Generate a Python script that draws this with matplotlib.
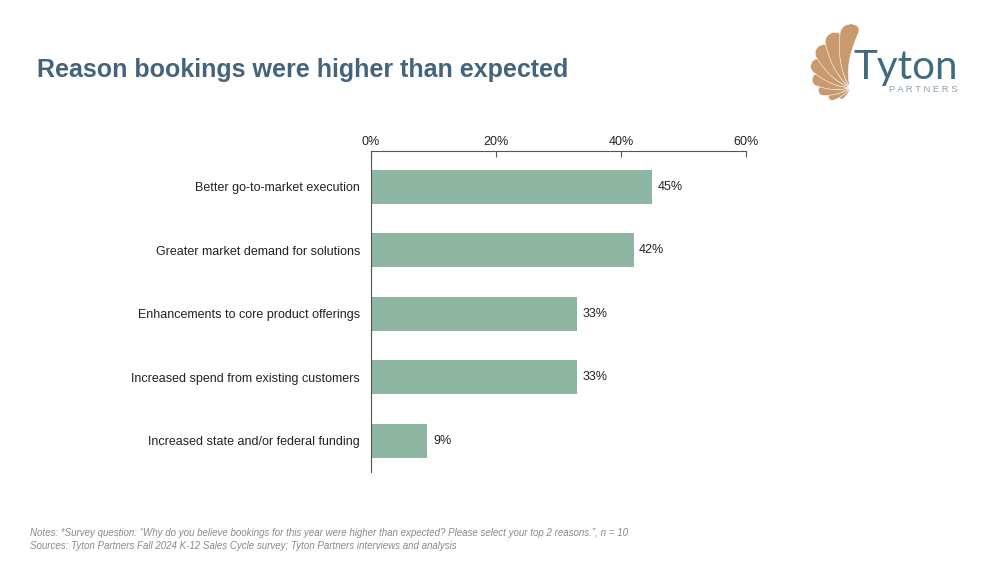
import numpy as np
import matplotlib.pyplot as plt
from matplotlib.patches import Polygon

plt.rcParams['font.family'] = ['Liberation Sans', 'DejaVu Sans']

# Data
reasons = [
    "Better go-to-market execution",
    "Greater market demand for solutions",
    "Enhancements to core product offerings",
    "Increased spend from existing customers",
    "Increased state and/or federal funding",
]
shares = [45, 42, 33, 33, 9]
ticks = [0, 20, 40, 60]

bar_color = "#8fb5a3"
title_color = "#44647e"
text_color = "#222222"

fig = plt.figure(figsize=(10, 5.63), dpi=100)
ax = fig.add_axes([0.371, 0.162, 0.375, 0.570])

y = np.arange(len(reasons))
ax.barh(y, shares, height=0.535, color=bar_color)
ax.set_yticks(y)
ax.set_yticklabels(reasons, fontsize=9, color=text_color)
ax.set_ylim(4.49, -0.567)

ax.set_xlim(0, 60)
ax.set_xticks(ticks)
ax.set_xticklabels([f"{t}%" for t in ticks], fontsize=9, color=text_color)
ax.xaxis.tick_top()
ax.tick_params(axis="x", direction="in", length=4, width=0.8, color="#555555", pad=2)
ax.tick_params(axis="y", length=0, pad=8)

for s in ["right", "bottom"]:
    ax.spines[s].set_visible(False)
for s in ["top", "left"]:
    ax.spines[s].set_color("#555555")
    ax.spines[s].set_linewidth(0.8)

for yi, v in zip(y, shares):
    ax.text(v + 0.9, yi, f"{v}%", va="center", ha="left", fontsize=9, color=text_color)

fig.text(0.037, 0.875, "Reason bookings were higher than expected",
         fontsize=18, fontweight="bold", color=title_color, va="center")

fig.text(0.03, 0.053,
         "Notes: *Survey question: \u201cWhy do you believe bookings for this year were higher than expected? "
         "Please select your top 2 reasons.\u201d, n = 10",
         fontsize=7, style="italic", color="#8a8a8a", va="center")
fig.text(0.03, 0.030,
         "Sources: Tyton Partners Fall 2024 K-12 Sales Cycle survey; Tyton Partners interviews and analysis",
         fontsize=7, style="italic", color="#8a8a8a", va="center")

# Logo (axes units ~ pixels)
lax = fig.add_axes([0.805, 0.82, 0.17, 0.145])
lax.set_xlim(0, 170)
lax.set_ylim(82, 0)
lax.axis("off")
tan = "#c9996f"
cx, cy = 45, 68
tip_angles = [228, 207, 186, 166, 146, 127, 108, 89]
lengths = [15, 24, 32, 39, 46, 52, 58, 64]
bend = 24
hw = np.deg2rad(9.6)
for ang, L in zip(tip_angles, lengths):
    t = np.linspace(0, 1, 50)
    theta = np.deg2rad(ang + bend * (1 - t) ** 1.3)
    r = L * t
    half = np.where(t > 0.86, hw * np.sqrt(np.clip(1 - ((t - 0.86) / 0.14) ** 2, 0, 1)), hw)
    left = np.column_stack([cx + r * np.cos(theta + half), cy - r * np.sin(theta + half)])
    right = np.column_stack([cx + r * np.cos(theta - half), cy - r * np.sin(theta - half)])
    pts = np.vstack([left, right[::-1]])
    lax.add_patch(Polygon(pts, closed=True, facecolor=tan, edgecolor="white", lw=0.4))
lax.text(48, 48, "Tyton", fontsize=29, color="#3f6b80", va="center", ha="left",
         family=["Lato", "DejaVu Sans"])
lax.text(84, 70, "P A R T N E R S", fontsize=6.8, color="#8aa0ad", va="center", ha="left")

fig.savefig("out.png", dpi=100, facecolor="white")
